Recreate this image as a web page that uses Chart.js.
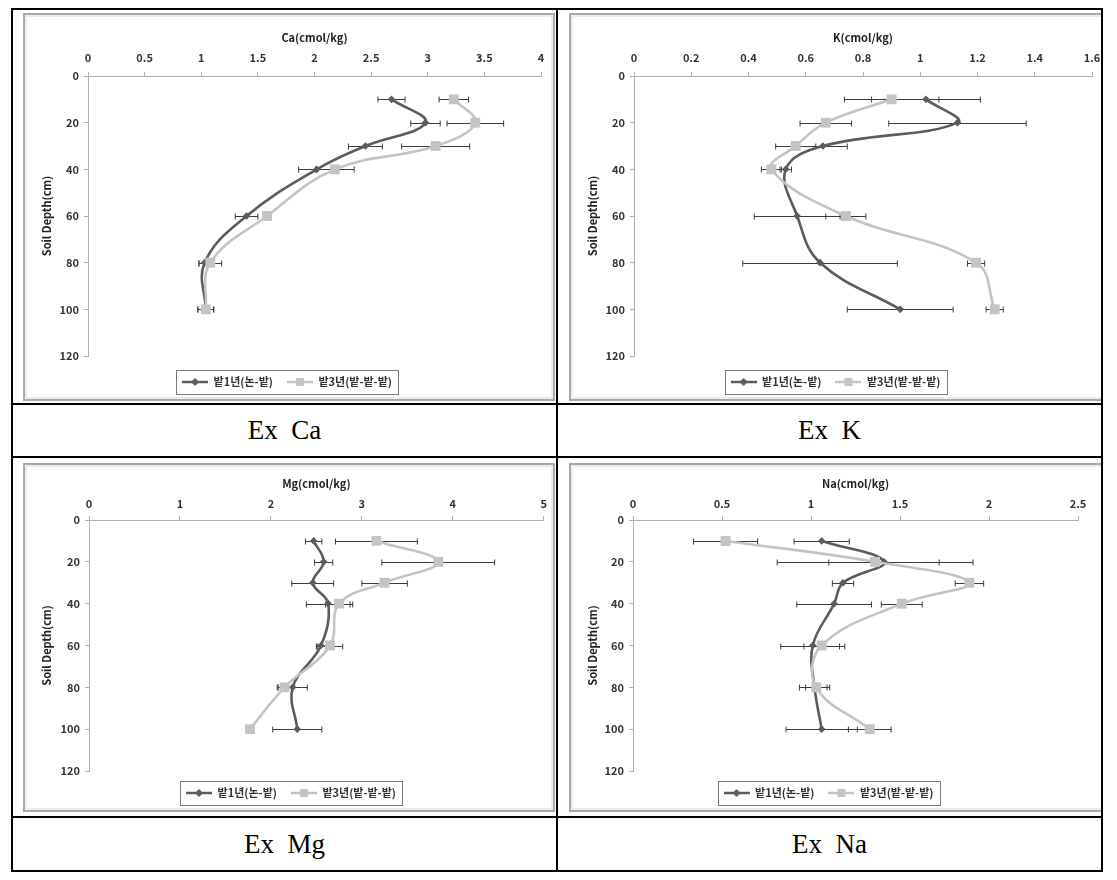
<!DOCTYPE html>
<html><head><meta charset="utf-8">
<script src="https://cdn.jsdelivr.net/npm/chart.js@4.4.1/dist/chart.umd.min.js"></script>
<style>
html,body{margin:0;padding:0;background:#fff;}
body{width:1117px;height:880px;position:relative;overflow:hidden;}
.ln{position:absolute;background:#000;z-index:5;}
.clip{position:absolute;overflow:hidden;}
.frame{position:absolute;border:2px solid #a8a8a8;box-shadow:inset 0 0 0 2px #ececec;box-sizing:border-box;overflow:hidden;background:#fff;}
.frame canvas{position:absolute;left:0;top:0;}
.cap{position:absolute;display:flex;align-items:center;justify-content:center;font-family:"Liberation Serif","DejaVu Serif",serif;font-size:27px;color:#000;white-space:pre;}
</style></head><body>

<div class="clip" style="left:13px;top:10px;width:543px;height:393px;">
  <div class="frame" style="left:10px;top:3px;width:532px;height:388px;"><canvas id="cCa" width="528" height="384" style="width:528px;height:384px"></canvas></div>
</div>
<div class="clip" style="left:558px;top:10px;width:543px;height:393px;">
  <div class="frame" style="left:11px;top:3px;width:545px;height:388px;"><canvas id="cK" width="541" height="384" style="width:541px;height:384px"></canvas></div>
</div>
<div class="clip" style="left:13px;top:458px;width:543px;height:358px;">
  <div class="frame" style="left:10px;top:5px;width:532px;height:349px;"><canvas id="cMg" width="528" height="348" style="width:528px;height:348px"></canvas></div>
</div>
<div class="clip" style="left:558px;top:458px;width:543px;height:358px;">
  <div class="frame" style="left:11px;top:5px;width:545px;height:349px;"><canvas id="cNa" width="541" height="348" style="width:541px;height:348px"></canvas></div>
</div>

<div class="cap" style="left:13px;top:405px;width:543px;height:51px;">Ex  Ca</div>
<div class="cap" style="left:558px;top:405px;width:543px;height:51px;">Ex  K</div>
<div class="cap" style="left:13px;top:818px;width:543px;height:52px;">Ex  Mg</div>
<div class="cap" style="left:558px;top:818px;width:543px;height:52px;">Ex  Na</div>

<!-- table lines -->
<div class="ln" style="left:11px;top:8px;width:1092px;height:2px;"></div>
<div class="ln" style="left:11px;top:403px;width:1092px;height:2px;"></div>
<div class="ln" style="left:11px;top:456px;width:1092px;height:2px;"></div>
<div class="ln" style="left:11px;top:816px;width:1092px;height:2px;"></div>
<div class="ln" style="left:11px;top:870px;width:1092px;height:2px;"></div>
<div class="ln" style="left:11px;top:8px;width:2px;height:864px;"></div>
<div class="ln" style="left:556px;top:8px;width:2px;height:864px;"></div>
<div class="ln" style="left:1101px;top:8px;width:2px;height:864px;"></div>

<script>
// ---------- data ----------
const depths = [10, 20, 30, 40, 60, 80, 100];
const depthTicks = [0, 20, 40, 60, 80, 100, 120];
const seriesLabels = ['밭1년(논-밭)', '밭3년(밭-밭-밭)'];
const depthTitle = 'Soil Depth(cm)';

const caTitle = 'Ca(cmol/kg)';
const caTicks = [0, 0.5, 1, 1.5, 2, 2.5, 3, 3.5, 4];
const caYear1 = [2.68, 2.98, 2.45, 2.02, 1.40, 1.03, 1.04];
const caYear1Err = [0.12, 0.13, 0.15, 0.16, 0.10, 0.05, 0.07];
const caYear3 = [3.23, 3.42, 3.07, 2.18, 1.58, 1.08, 1.04];
const caYear3Err = [0.13, 0.25, 0.30, 0.17, 0.03, 0.10, 0.07];

const kTitle = 'K(cmol/kg)';
const kTicks = [0, 0.2, 0.4, 0.6, 0.8, 1, 1.2, 1.4, 1.6];
const kYear1 = [1.02, 1.13, 0.66, 0.53, 0.57, 0.65, 0.93];
const kYear1Err = [0.19, 0.24, 0.085, 0.02, 0.15, 0.27, 0.185];
const kYear3 = [0.90, 0.67, 0.565, 0.48, 0.74, 1.195, 1.26];
const kYear3Err = [0.165, 0.09, 0.07, 0.035, 0.07, 0.03, 0.03];

const mgTitle = 'Mg(cmol/kg)';
const mgTicks = [0, 1, 2, 3, 4, 5];
const mgYear1 = [2.47, 2.58, 2.46, 2.63, 2.55, 2.24, 2.29];
const mgYear1Err = [0.09, 0.10, 0.23, 0.24, 0.05, 0.16, 0.27];
const mgYear3 = [3.16, 3.84, 3.25, 2.75, 2.65, 2.15, 1.77];
const mgYear3Err = [0.45, 0.62, 0.25, 0.15, 0.14, 0.08, 0.02];

const naTitle = 'Na(cmol/kg)';
const naTicks = [0, 0.5, 1, 1.5, 2, 2.5];
const naYear1 = [1.06, 1.41, 1.18, 1.13, 1.01, 1.02, 1.06];
const naYear1Err = [0.155, 0.31, 0.06, 0.21, 0.18, 0.085, 0.20];
const naYear3 = [0.52, 1.36, 1.89, 1.51, 1.06, 1.03, 1.33];
const naYear3Err = [0.18, 0.55, 0.08, 0.115, 0.10, 0.06, 0.12];

// ---------- styling ----------
const DARK = '#5c5c5c';
const LIGHT = '#c4c4c4';
const AXIS = '#b0b0b0';
const TEXT = '#333333';
const FONT = '"Noto Sans CJK KR", "Noto Sans", sans-serif';

function legendSymbol(color, shape) {
  const c = document.createElement('canvas');
  c.width = 26; c.height = 12;
  const g = c.getContext('2d');
  g.strokeStyle = color; g.lineWidth = 2.5;
  g.beginPath(); g.moveTo(0, 6); g.lineTo(26, 6); g.stroke();
  g.fillStyle = color;
  if (shape === 'diamond') {
    g.beginPath(); g.moveTo(13, 2); g.lineTo(17, 6); g.lineTo(13, 10); g.lineTo(9, 6); g.closePath(); g.fill();
  } else {
    g.fillRect(9, 2, 8, 8);
  }
  return c;
}
const symbols = [legendSymbol(DARK, 'diamond'), legendSymbol(LIGHT, 'square')];

const errorBarPlugin = {
  id: 'errbars',
  beforeDatasetsDraw(chart) {
    const {ctx} = chart;
    const xs = chart.scales.x, ys = chart.scales.y;
    ctx.save();
    ctx.strokeStyle = '#3c3c3c';
    ctx.lineWidth = 1;
    chart.data.datasets.forEach((ds) => {
      ds.data.forEach((p, j) => {
        const e = ds.errors[j];
        if (!e) return;
        const yp = Math.round(ys.getPixelForValue(p.y)) + 0.5;
        const x0 = xs.getPixelForValue(p.x - e), x1 = xs.getPixelForValue(p.x + e);
        ctx.beginPath();
        ctx.moveTo(x0, yp); ctx.lineTo(x1, yp);
        ctx.moveTo(x0, yp - 3); ctx.lineTo(x0, yp + 3);
        ctx.moveTo(x1, yp - 3); ctx.lineTo(x1, yp + 3);
        ctx.stroke();
      });
    });
    ctx.restore();
  }
};

const legendBoxPlugin = {
  id: 'legendBox',
  afterDraw(chart) {
    const hb = chart.legend && chart.legend.legendHitBoxes;
    if (!hb || !hb.length) return;
    const ctx = chart.ctx;
    const l = Math.min(...hb.map(h => h.left)) - 6;
    const r = Math.max(...hb.map(h => h.left + h.width)) + 6;
    const cy = hb[0].top + hb[0].height / 2;
    ctx.save();
    ctx.strokeStyle = '#7a7a7a';
    ctx.lineWidth = 1;
    ctx.strokeRect(Math.round(l) + 0.5, Math.round(cy - 12) + 0.5, Math.round(r - l), 24);
    ctx.restore();
  }
};

function makeChart(id, cfg) {
  const pts = vals => vals.map((v, i) => ({x: v, y: depths[i]}));
  const tickFont = {family: FONT, size: 11, weight: 'bold'};
  return new Chart(document.getElementById(id), {
    type: 'line',
    data: {
      datasets: [
        {label: seriesLabels[0], data: pts(cfg.s1), errors: cfg.e1, borderColor: DARK, backgroundColor: DARK,
         pointStyle: 'rectRot', pointRadius: 3.8, pointBorderWidth: 0, borderWidth: 2.6, tension: 0.4, order: 2},
        {label: seriesLabels[1], data: pts(cfg.s2), errors: cfg.e2, borderColor: LIGHT, backgroundColor: LIGHT,
         pointStyle: 'rect', pointRadius: 7, pointBorderWidth: 0, borderWidth: 2.6, tension: 0.4, order: 1}
      ]
    },
    options: {
      responsive: false, animation: false, indexAxis: 'y', devicePixelRatio: 1,
      layout: {padding: cfg.pad},
      scales: {
        x: {
          type: 'linear', position: 'top', min: 0, max: cfg.ticks[cfg.ticks.length - 1],
          afterBuildTicks: s => { s.ticks = cfg.ticks.map(v => ({value: v})); },
          afterFit: s => { s.height = cfg.xh; },
          grid: {drawOnChartArea: false, color: AXIS, tickLength: 4},
          border: {color: AXIS, width: 1},
          ticks: {font: tickFont, color: TEXT, padding: cfg.xpad, maxRotation: 0, autoSkip: false,
                  callback: v => String(Math.round(v * 100) / 100)},
          title: {display: true, text: cfg.title, font: {family: FONT, size: 11, weight: 'bold'}, color: '#222', padding: {top: cfg.tpad, bottom: 0}}
        },
        y: {
          type: 'linear', reverse: true, min: 0, max: 120,
          afterBuildTicks: s => { s.ticks = depthTicks.map(v => ({value: v})); },
          afterFit: s => { s.width = cfg.yw; },
          grid: {drawOnChartArea: false, color: AXIS, tickLength: 4},
          border: {color: AXIS, width: 1},
          ticks: {font: tickFont, color: TEXT, padding: 5, autoSkip: false, callback: v => String(v)},
          title: {display: true, text: depthTitle, font: {family: FONT, size: 11, weight: 'bold'}, color: '#222', padding: {top: 7, bottom: 0}}
        }
      },
      plugins: {
        tooltip: {enabled: false},
        legend: {
          position: 'bottom',
          title: {display: true, text: '', font: {size: 1, lineHeight: 1}, padding: {top: cfg.ltitle, bottom: 0}},
          labels: {
            usePointStyle: true, pointStyleWidth: 26, padding: 14, color: TEXT,
            font: {family: FONT, size: 11, weight: 'bold'},
            generateLabels: chart => chart.data.datasets.map((ds, i) => ({
              text: ds.label, pointStyle: symbols[i], fillStyle: ds.borderColor, strokeStyle: ds.borderColor,
              lineWidth: 0, hidden: false, datasetIndex: i, fontColor: TEXT
            }))
          }
        }
      }
    },
    plugins: [errorBarPlugin, legendBoxPlugin]
  });
}

makeChart('cCa', {title: caTitle, ticks: caTicks, s1: caYear1, e1: caYear1Err, s2: caYear3, e2: caYear3Err,
  pad: {left: 8, right: 12, top: 8, bottom: 1.5}, xh: 53, yw: 55, xpad: 8, tpad: 8, ltitle: 5.5});
makeChart('cK', {title: kTitle, ticks: kTicks, s1: kYear1, e1: kYear1Err, s2: kYear3, e2: kYear3Err,
  pad: {left: 8, right: 20, top: 8, bottom: 1.5}, xh: 53, yw: 55, xpad: 8, tpad: 8, ltitle: 5.5});
makeChart('cMg', {title: mgTitle, ticks: mgTicks, s1: mgYear1, e1: mgYear1Err, s2: mgYear3, e2: mgYear3Err,
  pad: {left: 8, right: 4, top: 4, bottom: 4.5}, xh: 51, yw: 56, xpad: 6, tpad: 8, ltitle: 1.5});
makeChart('cNa', {title: naTitle, ticks: naTicks, s1: naYear1, e1: naYear1Err, s2: naYear3, e2: naYear3Err,
  pad: {left: 8, right: 34, top: 4, bottom: 4.5}, xh: 51, yw: 54, xpad: 6, tpad: 8, ltitle: 1.5});
</script>
</body></html>
